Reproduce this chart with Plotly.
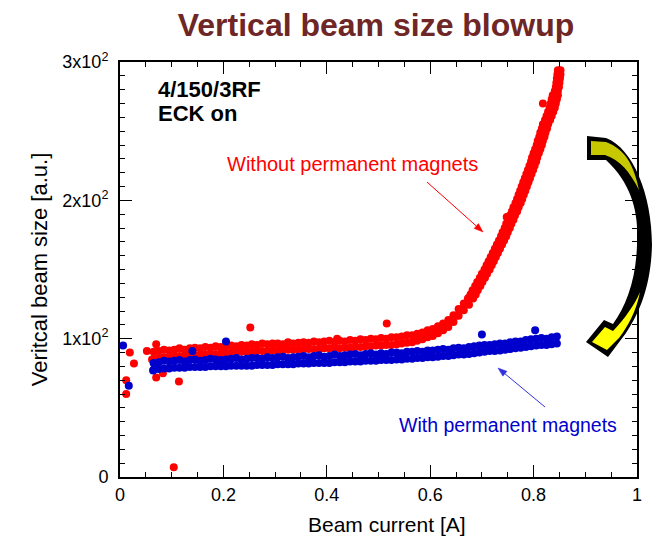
import math
import plotly.graph_objects as go

# ---------------- data ----------------
# "Without permanent magnets" (red): flat/transition part, upper and lower edge rows
red_x = [0.065, 0.075, 0.085, 0.095, 0.105, 0.115, 0.125, 0.135, 0.145, 0.155,
         0.165, 0.175, 0.185, 0.195, 0.205, 0.215, 0.225, 0.235, 0.245, 0.255,
         0.265, 0.275, 0.285, 0.295, 0.305, 0.315, 0.325, 0.335, 0.345, 0.355,
         0.365, 0.375, 0.385, 0.395, 0.405, 0.415, 0.425, 0.435, 0.445, 0.455,
         0.465, 0.475, 0.485, 0.495, 0.505, 0.515, 0.525, 0.535, 0.545, 0.555,
         0.565, 0.575, 0.585, 0.595, 0.605, 0.615, 0.625, 0.635, 0.645, 0.655,
         0.665, 0.675]
red_hi = [90.5, 91, 92, 91.5, 92, 93, 92, 93, 93.5, 93,
          94, 93.5, 94.5, 94, 94.5, 95, 94.5, 95.5, 95, 96,
          95.5, 96.5, 96, 96.5, 96.5, 96, 97.5, 96.5, 97, 97.5,
          97, 98, 97.5, 98, 98.5, 97.5, 98.5, 98, 99, 98.5,
          99.5, 99, 100, 99.5, 100.5, 100, 101, 101, 101.5, 102.5,
          102.5, 103.5, 104.5, 106, 107, 109, 111, 113.5, 117, 121.5,
          125.5, 129.5]
red_lo = [85.5, 86, 86.5, 87, 87, 87.5, 87.5, 88, 88, 88.5,
          88.5, 89, 89, 89.5, 89.5, 90, 90, 90.5, 90.5, 90.5,
          91, 91, 91, 91.5, 91.5, 91.5, 92, 92, 92, 92.5,
          92.5, 92.5, 92.5, 93, 93, 93, 93, 93.5, 93.5, 94,
          94, 94.5, 94.5, 95, 95, 95.5, 95.5, 96, 96.5, 97,
          97.5, 98.5, 99.5, 101, 102, 104, 106, 108.5, 112, 116.5,
          120.5, 124.5]
# red steep part: beam size values with left / right edge currents
red_steep_v = [129, 132, 135, 138, 141, 144, 147, 150, 153, 156,
               159, 162, 165, 168, 171, 174, 177, 180, 183, 186,
               189, 192, 195, 198, 201, 204, 207, 210, 213, 216,
               219, 222, 225, 228, 231, 234, 237, 240, 243, 246,
               249, 252, 255, 258, 261, 264, 267, 270, 273, 276,
               279, 282, 285, 288, 291, 294]
red_steep_xl = [0.673, 0.678, 0.682, 0.687, 0.691, 0.696, 0.700, 0.705, 0.709, 0.713,
                0.717, 0.721, 0.725, 0.729, 0.733, 0.737, 0.740, 0.744, 0.747, 0.751,
                0.754, 0.758, 0.761, 0.765, 0.768, 0.771, 0.774, 0.777, 0.780, 0.783,
                0.786, 0.789, 0.792, 0.795, 0.797, 0.800, 0.803, 0.806, 0.808, 0.811,
                0.813, 0.816, 0.818, 0.822, 0.825, 0.828, 0.831, 0.833, 0.835, 0.837,
                0.841, 0.843, 0.844, 0.845, 0.846, 0.847]
red_steep_xr = [0.683, 0.688, 0.692, 0.697, 0.701, 0.706, 0.710, 0.715, 0.719, 0.723,
                0.727, 0.731, 0.735, 0.739, 0.743, 0.747, 0.750, 0.754, 0.757, 0.761,
                0.764, 0.768, 0.771, 0.775, 0.778, 0.781, 0.784, 0.787, 0.790, 0.793,
                0.796, 0.799, 0.802, 0.805, 0.807, 0.810, 0.813, 0.816, 0.818, 0.821,
                0.823, 0.826, 0.828, 0.832, 0.835, 0.838, 0.841, 0.843, 0.845, 0.847,
                0.847, 0.849, 0.850, 0.851, 0.852, 0.852]
red_extra_x = [0.012, 0.012, 0.019, 0.027, 0.052, 0.062, 0.070, 0.070, 0.083, 0.104,
               0.114, 0.252, 0.420, 0.516, 0.640, 0.650, 0.660, 0.670, 0.748, 0.818]
red_extra_y = [60, 70, 90, 82, 91, 85, 96, 72, 75, 7,
               69, 108, 100, 111, 113, 116.5, 121, 125, 188, 270]

# "With permanent magnets" (blue)
blue_x = [0.065, 0.075, 0.085, 0.095, 0.105, 0.115, 0.125, 0.135, 0.145, 0.155,
          0.165, 0.175, 0.185, 0.195, 0.205, 0.215, 0.225, 0.235, 0.245, 0.255,
          0.265, 0.275, 0.285, 0.295, 0.305, 0.315, 0.325, 0.335, 0.345, 0.355,
          0.365, 0.375, 0.385, 0.395, 0.405, 0.415, 0.425, 0.435, 0.445, 0.455,
          0.465, 0.475, 0.485, 0.495, 0.505, 0.515, 0.525, 0.535, 0.545, 0.555,
          0.565, 0.575, 0.585, 0.595, 0.605, 0.615, 0.625, 0.635, 0.645, 0.655,
          0.665, 0.675, 0.685, 0.695, 0.705, 0.715, 0.725, 0.735, 0.745, 0.755,
          0.765, 0.775, 0.785, 0.795, 0.805, 0.815, 0.825, 0.835, 0.845]
blue_hi = [82.5, 83, 84, 83.5, 84, 84.5, 83.5, 84.5, 85, 84,
           84.5, 85.5, 85, 84.5, 85, 85.5, 86, 85, 85.5, 86,
           86, 85.5, 86.5, 86, 86.5, 87, 86, 86.5, 87, 87.5,
           86.5, 87.5, 88, 87, 87.5, 88.5, 87.5, 88, 88.5, 89,
           88, 89, 89.5, 88.5, 89.5, 89, 90, 90, 89.5, 90.5,
           90.5, 91, 90.5, 91.5, 91.5, 92, 92.5, 92, 93, 93.5,
           93, 94, 94.5, 95, 95.5, 95.5, 96, 96.5, 96.5, 97.5,
           98, 98, 99, 99.5, 100, 100.5, 100, 101, 101.5]
blue_lo = [77.5, 78, 78.5, 78.5, 79, 79, 79, 79.5, 79.5, 79.5,
           79.5, 80, 80, 80, 80, 80.5, 80.5, 80.5, 80.5, 80.5,
           81, 81, 81, 81, 81.5, 81.5, 81.5, 81.5, 82, 82,
           82, 82.5, 82.5, 82.5, 82.5, 83, 83, 83, 83.5, 83.5,
           83.5, 84, 84, 84, 84.5, 84.5, 84.5, 85, 85, 85.5,
           85.5, 86, 86, 86.5, 86.5, 87, 87.5, 87.5, 88, 88.5,
           88.5, 89, 89.5, 90, 90.5, 91, 91, 91.5, 92, 92.5,
           93, 93.5, 94, 94.5, 95, 95.5, 95.5, 96, 96.5]
blue_extra_x = [0.006, 0.017, 0.064, 0.140, 0.205, 0.700, 0.803]
blue_extra_y = [95, 66, 77, 91, 98, 103, 106]

x_tickvals = [0, 0.2, 0.4, 0.6, 0.8, 1]
x_ticktext = ["0", "0.2", "0.4", "0.6", "0.8", "1"]
y_tickvals = [0, 100, 200, 300]
y_ticktext = ["0", "1x10<sup>2</sup>", "2x10<sup>2</sup>", "3x10<sup>2</sup>"]

# ---------------- figure ----------------
W, H = 659, 541
ML, MR, MT, MB = 120, 22, 62, 64
PW, PH = W - ML - MR, H - MT - MB
FONT = "Liberation Sans, Arial, sans-serif"

def pp(px, py):
    return (px - ML) / PW, (H - MB - py) / PH

def path(segs, close=True):
    out = []
    for cmd, pts in segs:
        s = cmd
        for (px, py) in pts:
            a, b = pp(px, py)
            s += " %.5f,%.5f" % (a, b)
        out.append(s)
    return " ".join(out) + (" Z" if close else "")

fig = go.Figure()
fig.add_trace(go.Scatter(
    x=red_x + red_x + red_steep_xl + red_steep_xr + red_extra_x,
    y=red_hi + red_lo + red_steep_v + red_steep_v + red_extra_y,
    mode="markers", marker=dict(color="#ff0000", size=8, line=dict(width=0)),
    showlegend=False, hoverinfo="skip"))
fig.add_trace(go.Scatter(
    x=blue_x + blue_x + blue_extra_x,
    y=blue_hi + blue_lo + blue_extra_y,
    mode="markers", marker=dict(color="#0000cc", size=8, line=dict(width=0)),
    showlegend=False, hoverinfo="skip"))

axis_common = dict(
    showline=True, linecolor="black", linewidth=2, mirror="ticks",
    ticks="inside", ticklen=12, tickwidth=1.2, tickcolor="black",
    showgrid=False, zeroline=False,
    tickfont=dict(family=FONT, size=18, color="black"),
)
fig.update_xaxes(range=[0, 1], tickvals=x_tickvals, ticktext=x_ticktext,
                 minor=dict(ticks="inside", ticklen=5, dtick=0.05, tickwidth=1, tickcolor="black"),
                 **axis_common)
fig.update_yaxes(range=[0, 300], tickvals=y_tickvals, ticktext=y_ticktext,
                 ticklabelstandoff=6,
                 minor=dict(ticks="inside", ticklen=5, dtick=10, tickwidth=1, tickcolor="black"),
                 title=dict(text="Veritcal beam size [a.u.]", standoff=9,
                            font=dict(family=FONT, size=22, color="black")),
                 **axis_common)

# curved yellow arrow (decoration)
black_arrow = path([
    ("M", [(587, 136)]), ("L", [(606, 138)]),
    ("C", [(633, 148), (652, 195), (652, 245)]),
    ("C", [(651, 285), (640, 312), (626, 333)]),
    ("L", [(608, 357)]), ("L", [(586, 342)]), ("L", [(604, 320)]), ("L", [(613, 324)]),
    ("C", [(626, 306), (636, 280), (637, 245)]),
    ("C", [(639, 215), (633, 185), (606, 160)]),
    ("L", [(587, 160)]),
])
top_yellow = path([
    ("M", [(591, 141)]), ("L", [(606, 142)]),
    ("C", [(625, 149), (634, 165), (639, 190)]),
    ("C", [(630, 172), (620, 160), (605, 155)]),
    ("L", [(591, 155)]),
])
bottom_yellow = path([
    ("M", [(592, 342)]), ("L", [(605, 327)]), ("L", [(613, 331)]),
    ("C", [(625, 318), (634, 306), (640, 292)]),
    ("C", [(636, 312), (628, 326), (619, 338)]),
    ("L", [(607, 350)]),
])

def thin_arrow(tail, head, color, hl=9, hw=3.2):
    dx, dy = head[0] - tail[0], head[1] - tail[1]
    L = math.hypot(dx, dy)
    ux, uy = dx / L, dy / L
    nx, ny = -uy, ux
    bx, by = head[0] - hl * ux, head[1] - hl * uy
    line = dict(type="path", xref="paper", yref="paper",
                path=path([("M", [tail]), ("L", [(bx + 0.1 * ux, by + 0.1 * uy)])], close=False),
                line=dict(color=color, width=1), layer="above")
    tip = dict(type="path", xref="paper", yref="paper",
               path=path([("M", [head]), ("L", [(bx + hw * nx, by + hw * ny)]),
                          ("L", [(bx - hw * nx, by - hw * ny)])]),
               fillcolor=color, line=dict(color=color, width=0.5), layer="above")
    return [line, tip]

shapes = [
    dict(type="path", xref="paper", yref="paper", path=black_arrow,
         fillcolor="black", line=dict(width=0), layer="above"),
    dict(type="path", xref="paper", yref="paper", path=top_yellow,
         fillcolor="#c8c800", line=dict(width=0), layer="above"),
    dict(type="path", xref="paper", yref="paper", path=bottom_yellow,
         fillcolor="#ffff00", line=dict(width=0), layer="above"),
]
shapes += thin_arrow((427, 182), (483, 232), "#ff0000")
shapes += thin_arrow((545, 407), (498, 368), "#3030e0")

def ann_paper(text, px, py, size, color, bold=False, xanchor="center", angle=0):
    a, b = pp(px, py)
    if bold:
        text = "<b>" + text + "</b>"
    return dict(text=text, x=a, y=b, xref="paper", yref="paper", showarrow=False,
                xanchor=xanchor, yanchor="middle", textangle=angle,
                font=dict(family=FONT, size=size, color=color))

annotations = [
    ann_paper("4/150/3RF", 156, 89, 22, "black", bold=True, xanchor="left"),
    ann_paper("ECK on", 156, 113, 22, "black", bold=True, xanchor="left"),
    ann_paper("Without permanent magnets", 352, 164, 20, "#ff0000"),
    ann_paper("With permanent magnets", 508, 425, 19.5, "#0000cc"),
    ann_paper("Beam current [A]", 387, 524, 21, "black"),
]

fig.update_layout(
    width=W, height=H,
    margin=dict(l=ML, r=MR, t=MT, b=MB),
    paper_bgcolor="white", plot_bgcolor="white",
    font=dict(family=FONT, color="black"),
    title=dict(text="<b>Vertical beam size blowup</b>", x=376 / W, xref="container",
               xanchor="center", y=1 - 25 / H, yref="container", yanchor="middle",
               font=dict(family=FONT, size=32, color="#6e2626")),
    shapes=shapes, annotations=annotations, showlegend=False,
)
fig.write_html("out.html")
